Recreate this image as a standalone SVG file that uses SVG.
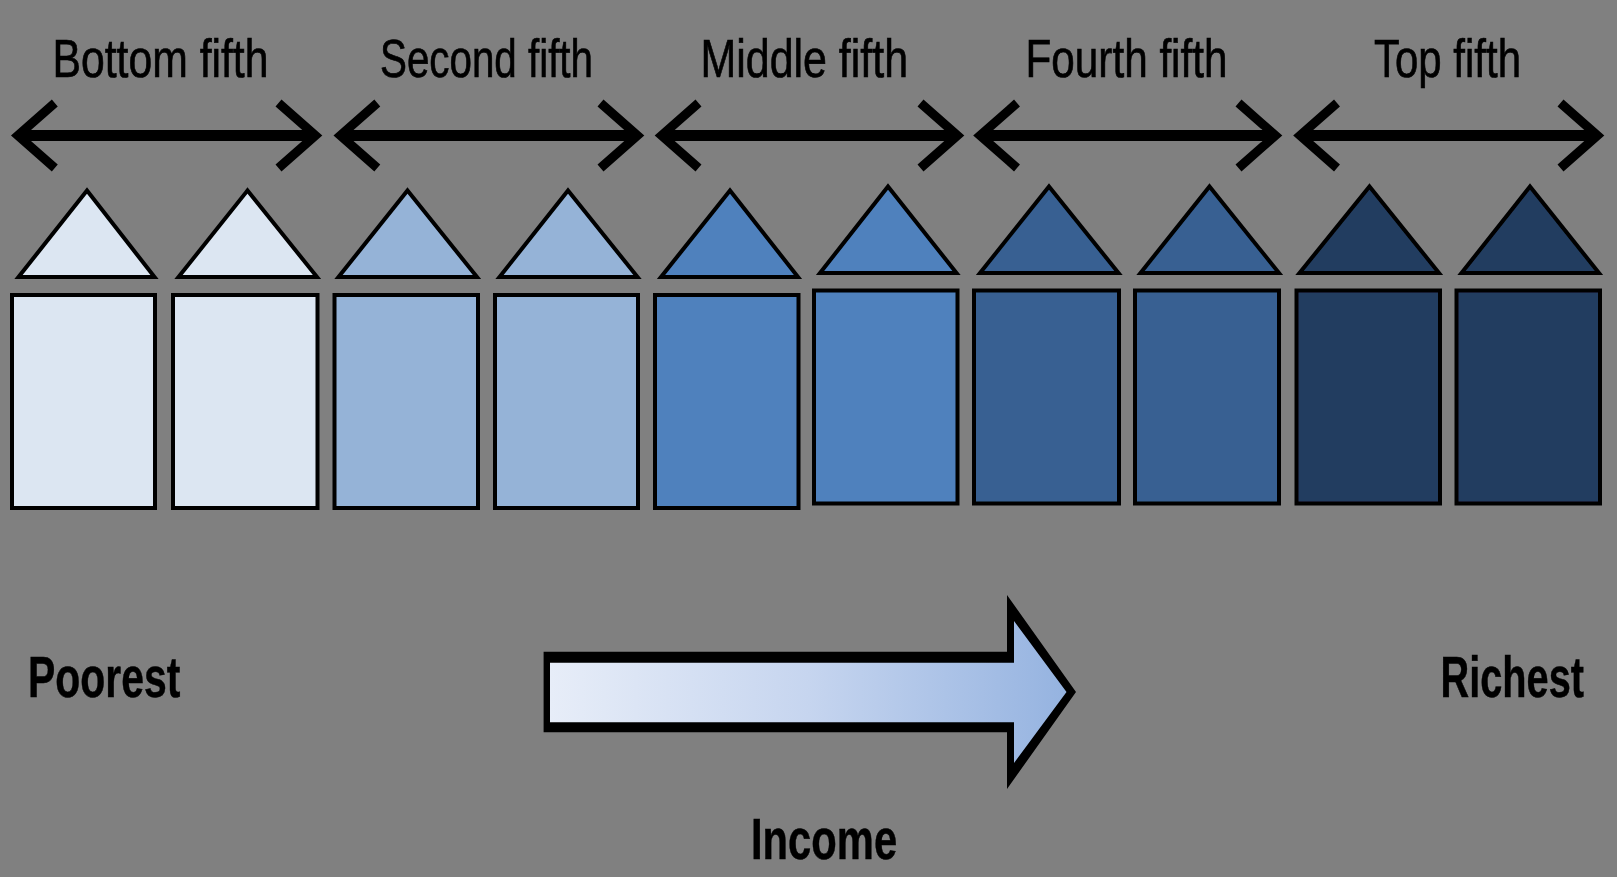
<svg xmlns="http://www.w3.org/2000/svg" width="1617" height="877" viewBox="0 0 1617 877">
<style>
.c1{fill:#DCE6F2}.c2{fill:#95B3D7}.c3{fill:#4F81BD}.c4{fill:#376092}.c5{fill:#243E60}
.s{stroke:#000;stroke-width:4;stroke-linejoin:miter}
.l{font-family:"Liberation Sans",Arial,sans-serif;font-size:54px;fill:#000;stroke:#000;stroke-width:.7}
.b{font-family:"Liberation Sans",Arial,sans-serif;font-size:58px;font-weight:bold;fill:#000;stroke:#000;stroke-width:.5}
.h{fill:none;stroke:#000;stroke-width:9;stroke-linejoin:miter;stroke-miterlimit:6}
.sh{fill:none;stroke:#000;stroke-width:11}
</style>
<defs>
<linearGradient id="g" x1="0" y1="0" x2="1" y2="0"><stop offset="0" stop-color="#E7EDF8"/><stop offset="0.5" stop-color="#C6D5EF"/><stop offset="1" stop-color="#95B3E0"/></linearGradient>
<filter id="soft" filterUnits="userSpaceOnUse" x="0" y="0" width="1617" height="877"><feGaussianBlur stdDeviation="0.6"/></filter>
</defs>
<rect width="1617" height="877" fill="#808080"/>
<g filter="url(#soft)">
<g id="labels">
<text class="l" x="52.5" y="77" textLength="216" lengthAdjust="spacingAndGlyphs">Bottom fifth</text>
<text class="l" x="380" y="77" textLength="213" lengthAdjust="spacingAndGlyphs">Second fifth</text>
<text class="l" x="700.5" y="77" textLength="207.5" lengthAdjust="spacingAndGlyphs">Middle fifth</text>
<text class="l" x="1025.5" y="77" textLength="202" lengthAdjust="spacingAndGlyphs">Fourth fifth</text>
<text class="l" x="1374" y="77" textLength="147" lengthAdjust="spacingAndGlyphs">Top fifth</text>
<text class="b" transform="translate(28 697) scale(.706 1)">Poorest</text>
<text class="b" transform="translate(1440.6 697) scale(.6845 1)">Richest</text>
<text class="b" transform="translate(751 859) scale(.72 1)">Income</text>
</g>
<g id="connectors">
<g id="span1"><path class="sh" d="M20 135.5H314"/><path class="h" d="M54.8 103L17.8 135.5L54.8 168M278.5 103L315.5 135.5L278.5 168"/></g>
<g id="span2"><path class="sh" d="M343 135.5H636"/><path class="h" d="M377.3 103L340.3 135.5L377.3 168M600.5 103L637.5 135.5L600.5 168"/></g>
<g id="span3"><path class="sh" d="M664 135.5H956"/><path class="h" d="M698.5 103L661.5 135.5L698.5 168M920.5 103L957.5 135.5L920.5 168"/></g>
<g id="span4"><path class="sh" d="M982 135.5H1274"/><path class="h" d="M1017 103L980 135.5L1017 168M1238.5 103L1275.5 135.5L1238.5 168"/></g>
<g id="span5"><path class="sh" d="M1302 135.5H1596"/><path class="h" d="M1337 103L1300 135.5L1337 168M1560.5 103L1597.5 135.5L1560.5 168"/></g>
</g>
<g id="house1"><polygon class="s c1" points="87,190.5 154.5,277 18.5,277"/><rect class="s c1" x="12" y="295" width="143" height="213"/></g>
<g id="house2"><polygon class="s c1" points="247.5,190.5 317,277 178.5,277"/><rect class="s c1" x="173" y="295" width="144.5" height="213"/></g>
<g id="house3"><polygon class="s c2" points="407.5,190.5 477,277 338.5,277"/><rect class="s c2" x="334.5" y="295" width="143.5" height="213"/></g>
<g id="house4"><polygon class="s c2" points="568,190.5 637.5,277 499.5,277"/><rect class="s c2" x="495" y="295" width="143" height="213"/></g>
<g id="house5"><polygon class="s c3" points="730,190.5 798,277 661,277"/><rect class="s c3" x="655" y="295" width="143.5" height="213"/></g>
<g id="house6"><polygon class="s c3" points="888,186.5 956.5,273 820,273"/><rect class="s c3" x="814" y="290.5" width="143.5" height="213"/></g>
<g id="house7"><polygon class="s c4" points="1049,186.5 1118.5,273 980,273"/><rect class="s c4" x="974" y="290.5" width="145" height="213"/></g>
<g id="house8"><polygon class="s c4" points="1209.5,186.5 1279,273 1140.5,273"/><rect class="s c4" x="1135" y="290.5" width="144" height="213"/></g>
<g id="house9"><polygon class="s c5" points="1369.5,186.5 1439,273 1299.5,273"/><rect class="s c5" x="1296.5" y="290.5" width="143.5" height="213"/></g>
<g id="house10"><polygon class="s c5" points="1530,186.5 1599,273 1461.5,273"/><rect class="s c5" x="1456.5" y="290.5" width="143.5" height="213"/></g>
<g id="income-arrow">
<polygon fill="#000" points="543.6,651.7 1007,651.7 1007,595 1076,692 1007,789 1007,732.3 543.6,732.3"/>
<polygon fill="url(#g)" points="550,662.7 1014,662.7 1014,621 1066.5,692 1014,763 1014,722.3 550,722.3"/>
</g>
</g>
</svg>
